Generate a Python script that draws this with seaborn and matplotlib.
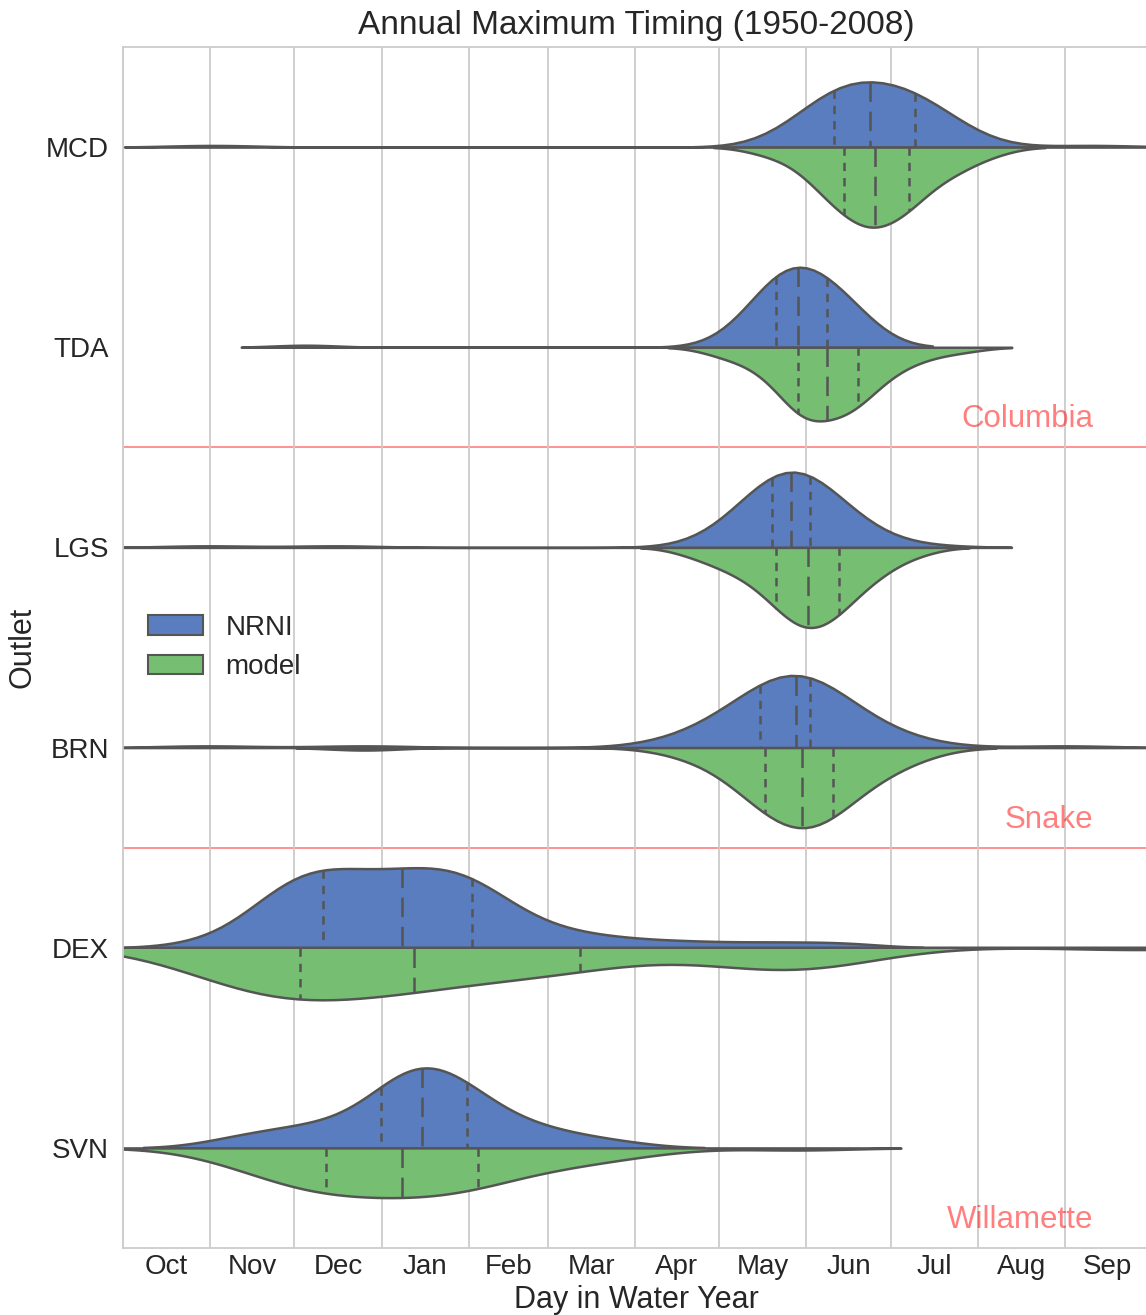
import numpy as np
import pandas as pd
import matplotlib
matplotlib.use("Agg")
import matplotlib.pyplot as plt
from matplotlib.patches import Patch
import seaborn as sns

# ---------------- data (day in water year, 59 water years per series) ----------------
outlets = ["MCD", "TDA", "LGS", "BRN", "DEX", "SVN"]
sources = ["NRNI", "model"]
month_labels = ["Oct", "Nov", "Dec", "Jan", "Feb", "Mar",
                "Apr", "May", "Jun", "Jul", "Aug", "Sep"]
month_starts = [0, 31, 61, 92, 123, 151, 182, 212, 243, 273, 304, 335, 365]
regions = ["Columbia", "Snake", "Willamette"]

mcd_nrni = [32, 246, 246.5, 247, 247.6, 248.1, 248.6, 249.1, 249.7, 250.2, 250.7, 251.2, 251.7, 252.3,
            252.8, 253.0, 254.2, 255.1, 256, 256.8, 257.7, 258.6, 259.5, 260.4, 261.2, 262.1, 263, 263.9,
            264.7, 265.6, 266.7, 267.8, 268.9, 270, 271.1, 272.2, 273.4, 274.5, 275.6, 276.7, 277.8, 278.9,
            280, 281.1, 282.3, 282.9, 283.6, 284.3, 285, 285.7, 286.4, 287.1, 287.8, 288.5, 289.2, 289.9,
            290.6, 291.3, 345]
mcd_model = [226, 233, 238, 241, 244, 246, 248, 249, 250, 251, 252, 253, 254, 255,
             256, 256.6, 258, 259, 260, 261, 262, 262, 263, 264, 264, 265, 266, 266, 267,
             267.5, 268, 269, 270, 271, 272, 273, 273, 274, 275, 276, 277, 278, 279,
             279.2, 280, 281, 282, 283, 285, 286, 288, 290, 292, 294, 296, 298, 301, 305, 312]

tda_nrni = [65, 216, 219, 222, 224, 225.5, 227, 228, 229, 229.5, 230, 230.5, 231, 231.5,
            232, 232.8, 233, 234, 235, 235, 236, 236, 237, 237, 238, 238, 239, 239, 240,
            240.2, 241, 242, 242, 243, 244, 244, 245, 246, 246, 247, 248, 249, 249.5,
            250, 250.8, 251.5, 252, 253, 254, 255, 256, 257, 258, 259, 260, 261, 262, 263, 265]
tda_model = [210, 215, 219, 223, 226, 228, 230, 232, 234, 235, 236, 237, 238, 239,
             240, 240.4, 241, 242, 242, 243, 243, 244, 244, 245, 245, 246, 247, 248, 249,
             250.4, 251, 252, 253, 254, 255, 255, 256, 257, 257, 258, 259, 259, 260,
             261, 262, 263, 264, 265, 266, 268, 269, 271, 273, 275, 278, 281, 285, 291, 300]

lgs_nrni = [30, 76, 217, 220, 222.5, 224.5, 226, 227, 228, 228.5, 229, 229.5, 230, 230.2,
            230.4, 231, 231.5, 232, 232.5, 233, 233.5, 234, 234.5, 235, 235.5, 236, 236.5, 237, 237,
            237.4, 238, 238.5, 239, 239.5, 240, 240.5, 241, 241.5, 242, 242.5, 243, 243.5, 244,
            244.2, 244.4, 245, 246, 247, 248, 249, 250, 251, 252, 253.5, 255, 257, 260, 264, 284]
lgs_model = [200, 206, 210, 213, 216, 218, 220, 222, 224, 226, 228, 229, 230, 231,
             232, 232.8, 234, 235, 236, 237, 238, 239, 239.5, 240, 240.5, 241, 242, 242.5, 243,
             243.6, 244, 245, 246, 247, 248, 248.5, 249, 250, 250.5, 251, 252, 253, 254,
             254.3, 254.7, 256, 257, 258, 260, 261, 262, 264, 265, 267, 269, 271, 274, 278, 285]

brn_nrni = [30, 86, 196, 203, 207, 211, 214, 216, 218, 220, 222, 223, 224, 225.5,
            226, 227.2, 228.5, 230, 231.5, 233, 234, 235, 236, 236.5, 237, 237.5, 238, 238.5, 239,
            239.4, 239.8, 240.2, 240.6, 241, 241.4, 241.8, 242.2, 242.6, 243, 243.3, 243.6, 243.9, 244.1,
            244.2, 244.4, 246, 248, 250, 252, 254, 256, 258, 260, 263, 266, 270, 274, 280, 335]
brn_model = [86, 196, 203, 208, 212, 215, 218, 220, 222, 223.5, 225, 226, 227, 227.7,
             228, 228.4, 229.5, 231, 232, 233, 234, 235, 236, 237, 238, 239, 240, 240.5, 241,
             241.5, 242, 243, 244, 244.5, 245, 246, 247, 248, 248.5, 249, 250, 251, 252,
             252.2, 252.6, 254, 255, 257, 258, 260, 262, 264, 266, 268, 270, 273, 276, 280, 286]

dex_nrni = [30, 47, 49, 51, 53, 55, 57, 59, 61, 63, 65, 66.5, 68, 69.5,
            70.5, 71.7, 73.5, 75.5, 77.5, 79.5, 81.5, 83.5, 85.5, 87.5, 89.5, 91.5, 93.5, 95.5, 97.5,
            99.3, 101, 103, 104.5, 106, 108, 110, 111.5, 113, 115, 117, 119, 120.5, 122,
            123.5, 124.5, 126, 128, 130, 133, 136, 140, 145, 152, 160, 170, 185, 205, 230, 255]
dex_model = [24, 28, 32, 35, 38, 41, 44, 47, 50, 52.5, 55, 57.5, 60, 61.5,
             62.5, 63.5, 66, 69, 72, 75, 78, 81, 84, 87, 90, 93, 96, 99, 102,
             103.6, 106, 110, 114, 118, 122, 126, 130, 135, 140, 145, 150, 155, 160,
             161.5, 163.5, 175, 190, 208, 218, 224, 229, 233, 237, 241, 245, 250, 256, 262, 362]

svn_nrni = [34, 42, 48, 53, 58, 62, 66, 70, 74, 77, 80, 84, 87, 89.5,
            91, 92.6, 94, 95.5, 97, 98, 99, 100, 101, 102, 103, 104, 104.8, 105.5, 106,
            106.3, 107, 108, 109, 110, 111, 112.5, 114, 115.5, 117, 118.5, 119.5, 120.5, 121.5,
            122, 122.8, 124, 126, 128, 130, 133, 136, 139, 142, 146, 150, 155, 161, 168, 180]
svn_model = [30, 38, 43, 47, 50, 53, 56, 58, 60, 62, 64, 66, 68, 70,
             71.8, 72.8, 75, 77, 79, 81, 83, 85, 87, 89, 91, 93, 95, 97, 98.5,
             99.3, 101, 103, 105, 107, 109, 111, 113, 115, 117, 119, 121, 123, 125,
             126, 126.8, 129, 132, 135, 139, 143, 147, 151, 155, 160, 165, 171, 178, 188, 240]

series = {
    ("MCD", "NRNI"): mcd_nrni, ("MCD", "model"): mcd_model,
    ("TDA", "NRNI"): tda_nrni, ("TDA", "model"): tda_model,
    ("LGS", "NRNI"): lgs_nrni, ("LGS", "model"): lgs_model,
    ("BRN", "NRNI"): brn_nrni, ("BRN", "model"): brn_model,
    ("DEX", "NRNI"): dex_nrni, ("DEX", "model"): dex_model,
    ("SVN", "NRNI"): svn_nrni, ("SVN", "model"): svn_model,
}
rows = []
for (outlet, source), vals in series.items():
    for v in vals:
        rows.append((outlet, source, v))
df = pd.DataFrame(rows, columns=["Outlet", "Source", "Day"])

# ---------------- style ----------------
sns.set_theme(style="whitegrid")
plt.rcParams["font.family"] = ["Liberation Sans", "DejaVu Sans"]
plt.rcParams["lines.scale_dashes"] = False

palette = {"NRNI": "#4878CF", "model": "#6ACC65"}
line_col = "#555555"
outline_lw = 1.8
median_dashes = (14, 7)
quart_dashes = (6, 5)
bw_adjust_by_outlet = {"MCD": 1.0, "TDA": 1.0, "LGS": 1.0, "BRN": 1.0, "DEX": 0.75, "SVN": 1.0}

fig = plt.figure(figsize=(11.46, 13.15), dpi=100)
ax = fig.add_axes([0.10716, 0.05095, 0.8958, 0.91331])

# one call per outlet so the two halves of an outlet are scaled together
for i, outlet in enumerate(outlets):
    sub = df[df["Outlet"] == outlet]
    n0 = len(ax.lines)
    sns.violinplot(data=sub, x="Day", y="Outlet", hue="Source",
                   order=outlets, hue_order=sources, orient="h",
                   split=True, inner="quart", palette=palette, saturation=0.75,
                   linewidth=outline_lw, linecolor=line_col, width=0.8, cut=2,
                   bw_method="scott", bw_adjust=bw_adjust_by_outlet[outlet],
                   density_norm="area", common_norm=True,
                   legend=False, ax=ax)
    for line in ax.lines[n0:]:
        xd = np.asarray(line.get_xdata(), float)
        yd = np.asarray(line.get_ydata(), float)
        src = "NRNI" if yd.mean() < i else "model"
        med = float(np.median(series[(outlet, src)]))
        line.set_linewidth(outline_lw)
        if abs(xd.mean() - med) < 1e-6:
            line.set_dashes(median_dashes)
        else:
            line.set_dashes(quart_dashes)

ax.set_xlim(0, 365)
ax.set_ylim(5.5, -0.5)

# region separators and labels
for yb in [1.5, 3.5]:
    ax.axhline(yb, color="red", alpha=0.5, lw=1.2, zorder=0.5)
for name, yb in zip(regions, [1.40, 3.40, 5.40]):
    ax.text(345, yb, name, color="red", alpha=0.5, fontsize=22.5,
            ha="right", va="baseline")

# month ticks: gridlines at month starts, labels at mid-month
mids = [(a + b) / 2 for a, b in zip(month_starts[:-1], month_starts[1:])]
ax.set_xticks(month_starts[:-1])
ax.set_xticklabels([""] * (len(month_starts) - 1))
ax.set_xticks(mids, minor=True)
ax.set_xticklabels(month_labels, minor=True, fontsize=20)
ax.tick_params(axis="x", which="both", length=0, pad=4)
ax.tick_params(axis="y", length=0, pad=10, labelsize=20)
ax.grid(axis="x", which="major", color="#cccccc", lw=1.3)
ax.grid(axis="x", which="minor", visible=False)
ax.grid(axis="y", visible=False)
for sp in ax.spines.values():
    sp.set_color("#cccccc")
    sp.set_linewidth(1.3)

ax.set_xlabel("Day in Water Year", fontsize=22, labelpad=4, color="#262626")
ax.set_ylabel("Outlet", fontsize=22, labelpad=6, color="#262626")
ax.set_title("Annual Maximum Timing (1950-2008)", fontsize=24, pad=9, color="#262626")

handles = [Patch(facecolor=sns.desaturate(palette[s], 0.75), edgecolor=line_col,
                 linewidth=1.5, label=s) for s in sources]
ax.legend(handles=handles, loc="center left", frameon=False, fontsize=20)

fig.savefig("out.png", dpi=100)
